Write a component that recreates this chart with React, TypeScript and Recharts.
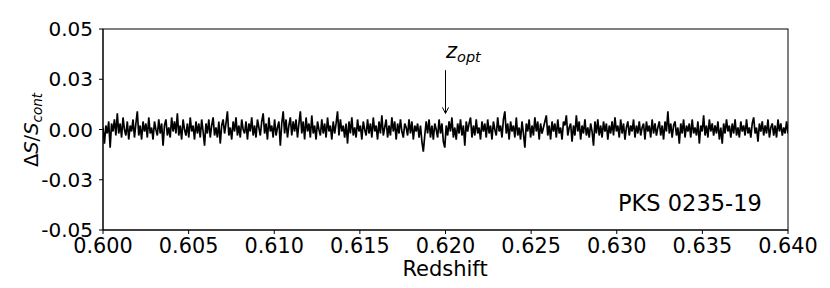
import React from "react";
import { LineChart, Line, XAxis, YAxis, ReferenceLine } from "recharts";

// redshift grid of the spectrum channels
const zStart = 0.6;
const zEnd = 0.64;

// ΔS/S_cont per channel, in units of 1e-3
const dSmilli = [
  1, -7, 2, -2, 4, -9, 3, -1, 5, -3,
  8, -2, 3, -4, 6, 0, -3, 4, -5, 2,
  -1, 5, -4, 3, 9, -3, 2, -5, 4, -1,
  3, -4, 6, -2, 1, -5, 4, 0, -3, 5,
  -2, 3, -8, 2, 5, -3, 1, -4, 6, -1,
  4, -2, 8, -3, 2, -5, 5, 0, -3, 3,
  -4, 6, -1, 2, -5, 4, -2, 3, -4, 5,
  -1, -8, 3, -2, 5, -4, 2, 6, -3, 1,
  -4, 4, -7, 2, 5, -2, 3, 9, -3, 1,
  -5, 4, -1, 6, -3, 2, -4, 5, 0, -2,
  4, -5, 3, -1, 6, -3, 2, -4, 5, 1,
  -3, 4, 8, -2, 3, -5, 6, -1, 2, -4,
  5, -3, 1, 4, -8, 3, 9, -2, 5, -4,
  2, 6, -3, 4, -1, 5, -4, 3, 9, -2,
  4, -5, 6, -1, 3, -4, 7, -2, 2, -5,
  4, 0, -3, 5, -2, 3, -4, 6, -1, 2,
  -5, 4, -2, 3, 9, -3, 5, -1, 2, -4,
  3, -7, 4, -2, 6, -3, 1, -4, 5, -1,
  2, -5, 4, 0, -3, 5, -2, 3, -4, 6,
  -1, 2, -5, 4, -2, 7, -3, 1, 5, -4,
  2, -3, 6, -1, 4, -5, 3, -2, 5, -1,
  -4, 3, 1, -3, 5, -2, 4, -5, 2, -1,
  3, -4, 2, -6, -11, -3, 4, -2, 5, -4,
  2, -5, 3, 0, -4, 5, -2, 3, -6, -9,
  2, -3, 4, -1, 6, -4, 1, -5, 3, -2,
  5, -3, 2, -8, 4, -1, 3, 6, -4, 2,
  -3, 5, -2, 1, -5, 4, -1, 3, -4, 5,
  -2, 2, -5, 4, 0, -3, 6, -1, 2, -4,
  5, 9, -2, 3, -5, 4, -1, 2, -4, 6,
  -3, 1, -5, 4, -2, -9, 3, -1, 5, -4,
  2, -3, 6, -1, 4, -5, 3, -2, 1, 4,
  7, -3, 2, -5, 4, -1, 3, -4, 5, -2,
  1, -5, 4, 2, 7, -3, 1, 3, -6, 2,
  -3, 7, -1, 4, -5, 2, -2, 5, -3, 1,
  -4, 3, -1, -8, 4, -2, 5, -3, 2, -4,
  4, -1, 3, -5, 2, -2, 4, -3, 6, -1,
  2, -4, 5, -2, 3, -5, 1, 4, -3, 2,
  -1, 5, -4, 2, -2, 4, -3, 1, 3, -5,
  4, -1, 2, -4, 5, -2, 3, -3, 1, 4,
  -3, 2, -5, 4, -1, 9, -2, 3, -4, 2,
  4, -3, 1, -7, 3, -2, 5, -4, 2, -1,
  3, -4, 5, -2, 1, -3, 4, -7, 2, -1,
  7, -3, 2, -4, 5, -1, 3, -3, 2, -2,
  4, -5, 1, -7, 3, -2, 5, -1, 2, -4,
  3, -2, 5, -3, 1, -4, 4, -1, 2, -3,
  5, -2, 1, -4, 3, 6, -2, 1, -6, 3,
  -1, 4, -3, 2, -2, 5, -4, 1, 3, -3,
  2, -4, 5, -1, 3, -3, 1, -2, 4, -2,
];

const xTicks = [0.6, 0.605, 0.61, 0.615, 0.62, 0.625, 0.63, 0.635, 0.64];
const yTicks = [-0.05, -0.025, 0, 0.025, 0.05];

const zOpt = 0.62;

const step = (zEnd - zStart) / (dSmilli.length - 1);
const data = dSmilli.map((v, i) => ({ z: zStart + i * step, dS: v / 1000 }));

const font = "'DejaVu Sans', sans-serif";

// plot box inside the chart svg
const box = { left: 95, top: 21, width: 685, height: 201 };

export default function App() {
  return (
    <div style={{ position: "relative", width: 822, height: 280, fontFamily: font }}>
      <LineChart
        width={822}
        height={280}
        data={data}
        margin={{ top: box.top, right: 822 - box.left - box.width, left: 0, bottom: 0 }}
      >
        <XAxis
          dataKey="z"
          type="number"
          domain={[zStart, zEnd]}
          ticks={xTicks}
          tickFormatter={(v: number) => v.toFixed(3)}
          tick={{ fill: "#000", fontSize: 20.8, fontFamily: font }}
          tickSize={4}
          tickMargin={4}
          height={280 - box.top - box.height}
          stroke="#000"
          allowDataOverflow
        />
        <YAxis
          type="number"
          domain={[-0.05, 0.05]}
          ticks={yTicks}
          tickFormatter={(v: number) => v.toFixed(2)}
          tick={{ fill: "#000", fontSize: 20, fontFamily: font }}
          tickSize={4}
          tickMargin={6}
          width={box.left}
          stroke="#000"
          allowDataOverflow
        />
        <Line
          dataKey="dS"
          type="linear"
          stroke="#000"
          strokeWidth={1.7}
          dot={false}
          isAnimationActive={false}
        />
        <ReferenceLine segment={[{ x: zOpt, y: 0.0295 }, { x: zOpt, y: 0.008 }]} stroke="#000" strokeWidth={1} />
        <ReferenceLine segment={[{ x: zOpt - 0.00018, y: 0.011 }, { x: zOpt, y: 0.008 }]} stroke="#000" strokeWidth={1} />
        <ReferenceLine segment={[{ x: zOpt + 0.00018, y: 0.011 }, { x: zOpt, y: 0.008 }]} stroke="#000" strokeWidth={1} />
      </LineChart>
      <svg
        width={822}
        height={280}
        style={{ position: "absolute", left: 0, top: 0, pointerEvents: "none" }}
        fontFamily={font}
      >
        <rect x={box.left} y={box.top} width={box.width} height={box.height} fill="none" stroke="#000" strokeWidth={1} />
        <text transform="translate(30,122) rotate(-90)" textAnchor="middle" fontSize={19.5} fill="#000">
          <tspan>Δ</tspan>
          <tspan fontStyle="italic">S</tspan>
          <tspan>/</tspan>
          <tspan fontStyle="italic">S</tspan>
          <tspan fontStyle="italic" fontSize={13.5} dy={4}>cont</tspan>
        </text>
        <text x={438} y={50} fontSize={21} fill="#000">
          <tspan fontStyle="italic">z</tspan>
          <tspan fontStyle="italic" fontSize={14.5} dy={4}>opt</tspan>
        </text>
        <text x={610} y={203} fontSize={22.5} fill="#000">PKS 0235-19</text>
        <text x={437} y={268} textAnchor="middle" fontSize={21} fill="#000">Redshift</text>
      </svg>
    </div>
  );
}
